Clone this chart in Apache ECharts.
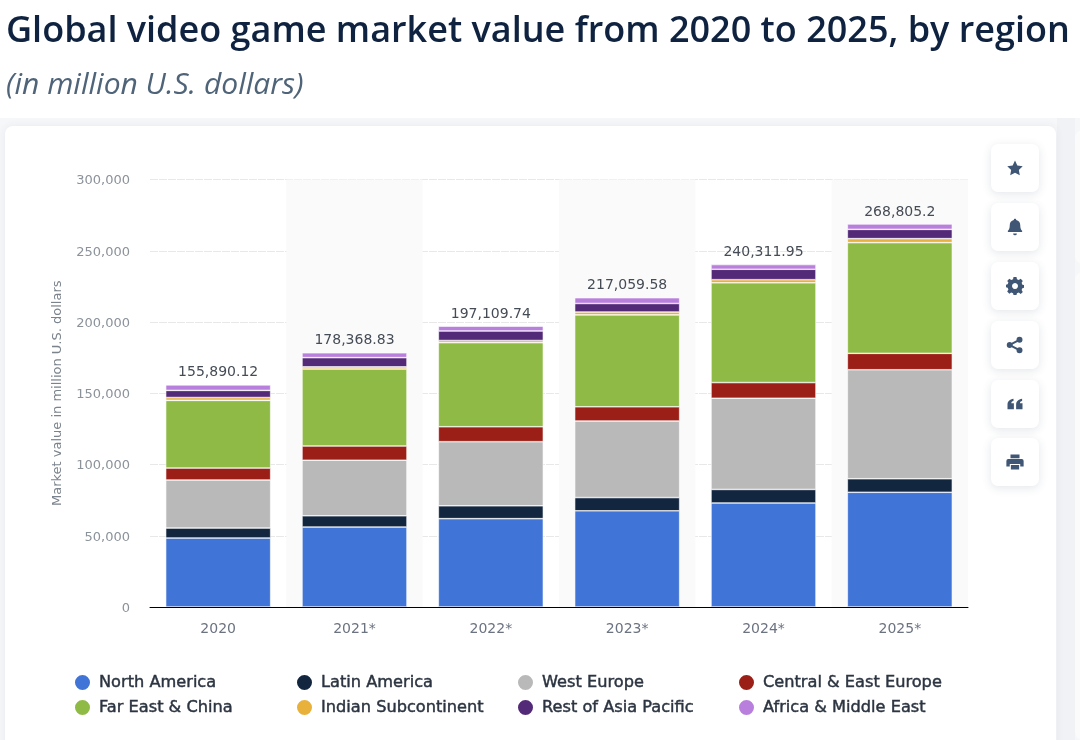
<!DOCTYPE html>
<html>
<head>
<meta charset="utf-8">
<style>
html, body { margin: 0; padding: 0; background: #fff; }
#wrap { position: relative; width: 1080px; height: 740px; overflow: hidden; }
#main { width: 1080px; height: 740px; }
.btn { position: absolute; left: 991px; width: 48px; height: 48px; border-radius: 7px; background: #fff;
    box-shadow: 0 2px 10px rgba(40,60,90,0.13); }
.btn svg { position: absolute; left: 15px; top: 15px; width: 18px; height: 18px; fill: #3f5675; }
</style>
<script src="https://cdn.jsdelivr.net/npm/echarts@6/dist/echarts.min.js"></script>
</head>
<body>
<div id="wrap"><div id="main"></div></div>
<script>
const years = ['2020', '2021*', '2022*', '2023*', '2024*', '2025*'];
const totals = ['155,890.12', '178,368.83', '197,109.74', '217,059.58', '240,311.95', '268,805.2'];
const yTicks = [0, 50000, 100000, 150000, 200000, 250000, 300000];

const northAmerica = [48400, 56100, 62000, 67500, 73000, 80500];
const latinAmerica = [7000, 7900, 9000, 9300, 9500, 9500];
const westEurope = [33700, 39000, 45000, 53700, 64000, 76500];
const centralEastEurope = [8400, 10000, 10500, 10000, 11000, 11500];
const farEastChina = [47500, 54000, 59000, 64500, 70000, 77700];
const indianSubcontinent = [2000, 1500, 1500, 2000, 2200, 2800];
const restOfAsiaPacific = [5000, 6500, 6700, 6000, 7300, 6500];
const africaMiddleEast = [3890, 3369, 3410, 4060, 3312, 3805];

const seriesNames = ['North America', 'Latin America', 'West Europe', 'Central & East Europe',
    'Far East & China', 'Indian Subcontinent', 'Rest of Asia Pacific', 'Africa & Middle East'];
const seriesValues = [northAmerica, latinAmerica, westEurope, centralEastEurope,
    farEastChina, indianSubcontinent, restOfAsiaPacific, africaMiddleEast];
const seriesColors = ['#4074d6', '#13263f', '#b9b9b9', '#9c1f17', '#8fba45', '#e8b13c', '#532a78', '#b97fdc'];

const font = 'DejaVu Sans';

// white buttons on the right of the card, page chrome and not part of the chart
const iconPaths = [
    'M12 2l3.100 6.600 7.200 1-5.200 5 1.300 7.200-6.400-3.500-6.400 3.500 1.300-7.200-5.200-5 7.200-1z',
    'M12 1c-1 0-1.600.7-1.600 1.600C7 3.400 5 6 5 9.500c0 4-1 6-2.500 7.500v1.500h19V17C20 15.500 19 13.500 19 9.500c0-3.500-2-6.100-5.400-6.900C13.600 1.700 13 1 12 1zM9.500 20.500a2.500 2.500 0 0 0 5 0z',
    'M10 0h4l.6 3 2.400 1 2.600-1.600 2.800 2.800L20.800 7.800l1 2.400 2.200.6v3.600l-2.200.6-1 2.400 1.600 2.600-2.800 2.800L17 20.600l-2.400 1-.6 2.400h-4l-.6-2.400-2.400-1-2.600 1.600-2.800-2.800 1.600-2.600-1-2.400-2.200-.6v-3.600l2.200-.6 1-2.400L1.600 5.200l2.800-2.800L7 4l2.400-1zM12 8a4 4 0 1 0 .01 0z',
    'M18 1a4 4 0 0 1 0 8c-1 0-2-.4-2.700-1l-6.400 3.200a4 4 0 0 1 0 1.600L15.300 16c.7-.6 1.700-1 2.700-1a4 4 0 1 1-4 4v-.8L7.600 15c-.7.600-1.600 1-2.600 1a4 4 0 0 1 0-8c1 0 1.900.4 2.600 1L14 5.800V5a4 4 0 0 1 4-4z',
    'M2 13C2 8 5 6 10 5v3C8 8.500 7 9.500 7 11h3.500v8H2zM13.500 13c0-5 3-7 8-8v3c-2 .5-3 1.500-3 3H22v8h-8.500z',
    'M6 2h12v5H6zM3 8h18a2.500 2.500 0 0 1 2.500 2.500V18H19v-3.500H5V18H.5v-7.500A2.500 2.500 0 0 1 3 8zM6.500 16h11v6h-11z'
];
const buttonTops = [144, 203, 262, 321, 380, 438];
buttonTops.forEach((top, i) => {
    const btn = document.createElement('div');
    btn.className = 'btn';
    btn.style.top = top + 'px';
    btn.innerHTML = '<svg viewBox="0 0 24 24"><path d="' + iconPaths[i] + '"/></svg>';
    document.getElementById('wrap').appendChild(btn);
});

const chart = echarts.init(document.getElementById('main'));

const option = {
    animation: false,
    backgroundColor: '#fff',
    textStyle: { fontFamily: font },
    title: [
        {
            text: 'Global video game market value from 2020 to 2025, by region',
            left: 6, top: 14, padding: 0,
            textStyle: { fontFamily: 'Open Sans', fontSize: 36, fontWeight: 600, color: '#0f2340' }
        },
        {
            text: '(in million U.S. dollars)',
            left: 6, top: 70, padding: 0,
            textStyle: { fontFamily: 'Open Sans', fontSize: 30, fontWeight: 400, fontStyle: 'italic', color: '#4f6479' }
        }
    ],
    graphic: [
        { type: 'rect', z: -20, shape: { x: 0, y: 118, width: 1080, height: 622 }, style: { fill: '#f6f7f9' } },
        { type: 'rect', z: -20, shape: { x: 1057, y: 118, width: 18, height: 622 }, style: { fill: '#f1f2f6' } },
        { type: 'rect', z: -20, shape: { x: 1075, y: 130, width: 30, height: 134, r: 8 }, style: { fill: '#fbfbfc' } },
        { type: 'rect', z: -20, shape: { x: 1075, y: 272, width: 30, height: 468, r: 8 }, style: { fill: '#fbfbfc' } },
        {
            type: 'rect', z: -10, shape: { x: 5, y: 126, width: 1051, height: 640, r: 8 },
            style: { fill: '#fff', shadowBlur: 8, shadowColor: 'rgba(40,60,90,0.07)' }
        }
    ],
    legend: [0, 1, 2, 3].map(col => ({
        left: [73, 295, 516, 737][col],
        top: 673,
        padding: 0,
        orient: 'vertical',
        icon: 'circle',
        itemWidth: 17,
        itemHeight: 17,
        itemGap: 6,
        selectedMode: false,
        data: [seriesNames[col], seriesNames[col + 4]],
        textStyle: {
            fontFamily: font, fontSize: 16.2, color: '#2b3440', padding: [0, 0, 0, 3],
            textBorderColor: '#2b3440', textBorderWidth: 0.45
        }
    })),
    grid: { left: 150, right: 112, top: 179.5, bottom: 133 },
    xAxis: {
        type: 'category',
        data: years,
        axisTick: { show: false },
        axisLine: { lineStyle: { color: '#000', width: 1 } },
        axisLabel: { fontFamily: font, fontSize: 14, color: '#6b7280', margin: 15 },
        splitArea: { show: true, areaStyle: { color: ['rgba(0,0,0,0)', '#fafafa'] } }
    },
    yAxis: {
        type: 'value',
        min: yTicks[0],
        max: yTicks[yTicks.length - 1],
        interval: 50000,
        name: 'Market value in million U.S. dollars',
        nameLocation: 'middle',
        nameGap: 86,
        nameTextStyle: { fontFamily: font, fontSize: 13, color: '#7b838c' },
        axisLine: { show: false },
        axisTick: { show: false },
        axisLabel: {
            fontFamily: font, fontSize: 13, color: '#8b929a', margin: 20,
            verticalAlign: 'top', padding: [-5, 0, 0, 0],
            formatter: v => v.toLocaleString('en-US')
        },
        splitLine: { lineStyle: { color: '#e8e8e8', type: [8, 1] } }
    },
    series: seriesNames.map((name, i) => ({
        name,
        type: 'bar',
        stack: 'total',
        barWidth: 105,
        data: seriesValues[i],
        itemStyle: { color: seriesColors[i], borderColor: '#fff', borderWidth: 0.6 },
        // baseline drawn again so the bar borders do not cover it
        markLine: i === 0 ? {
            silent: true,
            symbol: 'none',
            label: { show: false },
            lineStyle: { color: '#000', width: 1, type: 'solid' },
            data: [{ yAxis: 0 }]
        } : undefined,
        label: i === seriesNames.length - 1 ? {
            show: true,
            position: 'top',
            distance: 5,
            fontFamily: font,
            fontSize: 14,
            color: '#454c55',
            formatter: p => totals[p.dataIndex]
        } : { show: false }
    }))
};

chart.setOption(option);
window.addEventListener('resize', () => chart.resize());
</script>
</body>
</html>
